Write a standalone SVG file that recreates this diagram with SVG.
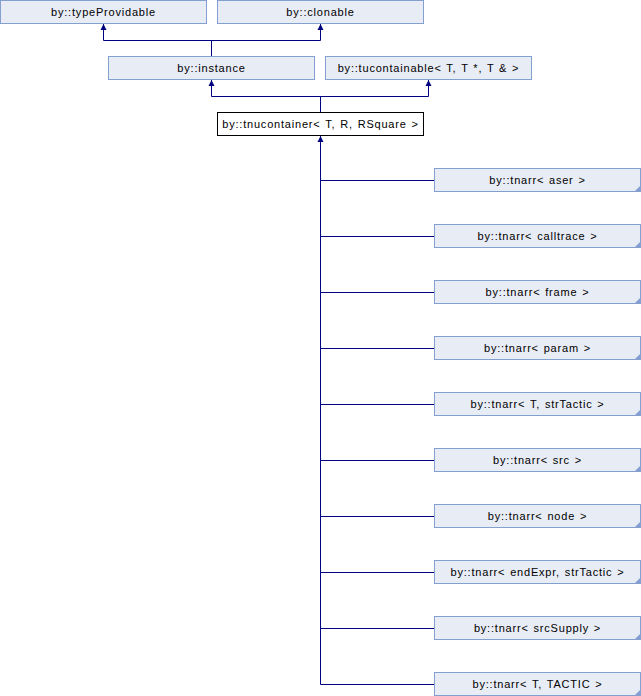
<svg xmlns="http://www.w3.org/2000/svg" width="641" height="696" viewBox="0 0 641 696">
<defs>
<style>
.box{fill:#E8ECF5;stroke:#84A0D0;stroke-width:1}
.cur{fill:#FFFFFF;stroke:#000000;stroke-width:1}
.lbl{font-family:"Liberation Sans",Arial,sans-serif;font-size:11px;letter-spacing:0.8px;word-spacing:1px;fill:#000000;text-anchor:middle}
.ln{fill:none;stroke:#000080;stroke-width:1}
.ah{fill:#000080}
.corner{fill:#84A0D0}
</style>
</defs>
<rect width="641" height="696" fill="#FFFFFF"/>
<g id="connectors">
<path class="ln" d="M103.5,24 V40.5 H320.5 V24"/>
<path class="ln" d="M211.5,40.5 V56"/>
<path class="ah" d="M100.5,30 L103.5,24 L106.5,30 Z"/>
<path class="ah" d="M317.5,30 L320.5,24 L323.5,30 Z"/>
<path class="ln" d="M211.5,80 V96.5 H428.5 V80"/>
<path class="ln" d="M320.5,96.5 V112"/>
<path class="ah" d="M208.5,86 L211.5,80 L214.5,86 Z"/>
<path class="ah" d="M425.5,86 L428.5,80 L431.5,86 Z"/>
<path class="ln" d="M320.5,136 V684.5 H434"/>
<path class="ah" d="M317.5,142 L320.5,136 L323.5,142 Z"/>
<path class="ln" d="M320.5,180.5 H434 M320.5,236.5 H434 M320.5,292.5 H434 M320.5,348.5 H434 M320.5,404.5 H434 M320.5,460.5 H434 M320.5,516.5 H434 M320.5,572.5 H434 M320.5,628.5 H434"/>
</g>
<g id="typeProvidable"><rect class="box" x="0.5" y="0.5" width="206" height="23"/><text class="lbl" x="103.5" y="15.5">by::typeProvidable</text></g>
<g id="clonable"><rect class="box" x="217.5" y="0.5" width="206" height="23"/><text class="lbl" x="320.5" y="15.5">by::clonable</text></g>
<g id="instance"><rect class="box" x="108.5" y="56.5" width="206" height="23"/><text class="lbl" x="211.5" y="71.5">by::instance</text></g>
<g id="tucontainable"><rect class="box" x="325.5" y="56.5" width="206" height="23"/><text class="lbl" x="428.5" y="71.5">by::tucontainable&lt; T, T *, T &amp; &gt;</text></g>
<g id="tnucontainer"><rect class="cur" x="217.5" y="112.5" width="206" height="23"/><text class="lbl" x="320.5" y="127.5">by::tnucontainer&lt; T, R, RSquare &gt;</text></g>
<g id="tnarr_aser"><rect class="box" x="434.5" y="168.5" width="206" height="23"/><path class="corner" d="M641,185 V192 H634 Z"/><text class="lbl" x="537.5" y="183.5">by::tnarr&lt; aser &gt;</text></g>
<g id="tnarr_calltrace"><rect class="box" x="434.5" y="224.5" width="206" height="23"/><path class="corner" d="M641,241 V248 H634 Z"/><text class="lbl" x="537.5" y="239.5">by::tnarr&lt; calltrace &gt;</text></g>
<g id="tnarr_frame"><rect class="box" x="434.5" y="280.5" width="206" height="23"/><path class="corner" d="M641,297 V304 H634 Z"/><text class="lbl" x="537.5" y="295.5">by::tnarr&lt; frame &gt;</text></g>
<g id="tnarr_param"><rect class="box" x="434.5" y="336.5" width="206" height="23"/><path class="corner" d="M641,353 V360 H634 Z"/><text class="lbl" x="537.5" y="351.5">by::tnarr&lt; param &gt;</text></g>
<g id="tnarr_T_strTactic"><rect class="box" x="434.5" y="392.5" width="206" height="23"/><path class="corner" d="M641,409 V416 H634 Z"/><text class="lbl" x="537.5" y="407.5">by::tnarr&lt; T, strTactic &gt;</text></g>
<g id="tnarr_src"><rect class="box" x="434.5" y="448.5" width="206" height="23"/><path class="corner" d="M641,465 V472 H634 Z"/><text class="lbl" x="537.5" y="463.5">by::tnarr&lt; src &gt;</text></g>
<g id="tnarr_node"><rect class="box" x="434.5" y="504.5" width="206" height="23"/><path class="corner" d="M641,521 V528 H634 Z"/><text class="lbl" x="537.5" y="519.5">by::tnarr&lt; node &gt;</text></g>
<g id="tnarr_endExpr_strTactic"><rect class="box" x="434.5" y="560.5" width="206" height="23"/><path class="corner" d="M641,577 V584 H634 Z"/><text class="lbl" x="537.5" y="575.5">by::tnarr&lt; endExpr, strTactic &gt;</text></g>
<g id="tnarr_srcSupply"><rect class="box" x="434.5" y="616.5" width="206" height="23"/><path class="corner" d="M641,633 V640 H634 Z"/><text class="lbl" x="537.5" y="631.5">by::tnarr&lt; srcSupply &gt;</text></g>
<g id="tnarr_T_TACTIC"><rect class="box" x="434.5" y="672.5" width="206" height="23"/><path class="corner" d="M641,689 V696 H634 Z"/><text class="lbl" x="537.5" y="687.5">by::tnarr&lt; T, TACTIC &gt;</text></g>
</svg>
